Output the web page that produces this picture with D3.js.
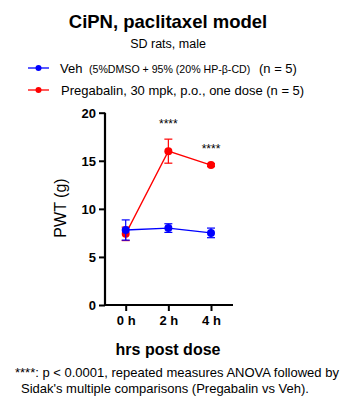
<!DOCTYPE html>
<html><head><meta charset="utf-8">
<script src="https://cdn.jsdelivr.net/npm/d3@7"></script>
<style>body{margin:0;background:#fff}svg{display:block;font-family:"Liberation Sans",Arial,sans-serif}</style>
</head><body><svg id="c" width="360" height="412"></svg>
<script>
const timepoints = ["0 h", "2 h", "4 h"];
const vehMean = [7.8, 8.0, 7.5];
const vehErr = [1.05, 0.45, 0.5];
const pregMean = [7.4, 16.0, 14.55];
const pregErr = [0.7, 1.25, 0.15];
const sigLabels = ["", "****", "****"];
const yTicks = [0, 5, 10, 15, 20];

const svg = d3.select("#c");
const x = d3.scalePoint().domain(timepoints).range([125.7, 211]);
const y = d3.scaleLinear().domain([0, 20]).range([305, 112.7]);

// title
svg.append("text").attr("x", 168).attr("y", 28).attr("text-anchor", "middle")
  .attr("font-size", 18.5).attr("font-weight", "bold").text("CiPN, paclitaxel model");
svg.append("text").attr("x", 168).attr("y", 48).attr("text-anchor", "middle")
  .attr("font-size", 12.5).text("SD rats, male");

// legend
const leg = [
  {c: "blue", y: 68, parts: [["Veh", 13, 60], ["(5%DMSO + 95% (20% HP-β-CD)", 10.6, 89], ["(n = 5)", 13, 259]]},
  {c: "red", y: 90, parts: [["Pregabalin, 30 mpk, p.o., one dose (n = 5)", 13, 61]]}
];
leg.forEach(l => {
  svg.append("line").attr("x1", 28).attr("x2", 49).attr("y1", l.y).attr("y2", l.y)
    .attr("stroke", l.c).attr("stroke-width", 1.3);
  svg.append("circle").attr("cx", 38.5).attr("cy", l.y).attr("r", 3).attr("fill", l.c);
  l.parts.forEach(p => svg.append("text").attr("x", p[2]).attr("y", l.y + 4.5)
    .attr("font-size", p[1]).text(p[0]));
});

// axes
const yAxis = svg.append("g").attr("transform", "translate(105,0)")
  .call(d3.axisLeft(y).tickValues(yTicks).tickSize(6).tickPadding(3));
const xAxis = svg.append("g").attr("transform", "translate(0,305)")
  .call(d3.axisBottom(x).tickSize(6).tickPadding(5));
yAxis.select(".domain").attr("d", "M105,112.7V306").attr("transform", "translate(-105,0)");
xAxis.select(".domain").attr("d", "M104,0H233");
[yAxis, xAxis].forEach(a => {
  a.selectAll(".domain").attr("stroke", "#000").attr("stroke-width", 2.2);
  a.selectAll(".tick line").attr("stroke", "#000").attr("stroke-width", 2);
  a.selectAll(".tick text").attr("font-size", 13).attr("font-weight", "bold")
    .attr("font-family", '"Liberation Sans",Arial,sans-serif').attr("fill", "#000");
});
yAxis.selectAll(".tick text").attr("dy", "0.35em");

svg.append("text").attr("transform", "translate(66,208) rotate(-90)").attr("text-anchor", "middle")
  .attr("font-size", 16).text("PWT (g)");
svg.append("text").attr("x", 168).attr("y", 355).attr("text-anchor", "middle")
  .attr("font-size", 16).attr("font-weight", "bold").text("hrs post dose");

// series
function drawSeries(mean, err, color) {
  const g = svg.append("g");
  const data = timepoints.map((t, i) => ({t, m: mean[i], e: err[i]}));
  g.append("path").datum(data)
    .attr("d", d3.line().x(d => x(d.t)).y(d => y(d.m)))
    .attr("fill", "none").attr("stroke", color).attr("stroke-width", 1.3);
  data.forEach(d => {
    const cx = x(d.t);
    g.append("line").attr("x1", cx).attr("x2", cx).attr("y1", y(d.m + d.e)).attr("y2", y(d.m - d.e))
      .attr("stroke", color).attr("stroke-width", 1.2);
    [d.m + d.e, d.m - d.e].forEach(v => g.append("line").attr("x1", cx - 4).attr("x2", cx + 4)
      .attr("y1", y(v)).attr("y2", y(v)).attr("stroke", color).attr("stroke-width", 1.2));
    g.append("circle").attr("cx", cx).attr("cy", y(d.m)).attr("r", 4).attr("fill", color);
  });
}
drawSeries(pregMean, pregErr, "red");
drawSeries(vehMean, vehErr, "blue");

// significance
timepoints.forEach((t, i) => {
  if (!sigLabels[i]) return;
  const top = Math.max(pregMean[i] + pregErr[i], vehMean[i] + vehErr[i]);
  svg.append("text").attr("x", x(t)).attr("y", y(top) - 11).attr("text-anchor", "middle")
    .attr("font-size", 12).text(sigLabels[i]);
});

// footnote
svg.append("text").attr("x", 15).attr("y", 377).attr("font-size", 13)
  .text("****: p < 0.0001, repeated measures ANOVA followed by");
svg.append("text").attr("x", 21).attr("y", 393).attr("font-size", 13)
  .text("Sidak's multiple comparisons (Pregabalin vs Veh).");
</script></body></html>
